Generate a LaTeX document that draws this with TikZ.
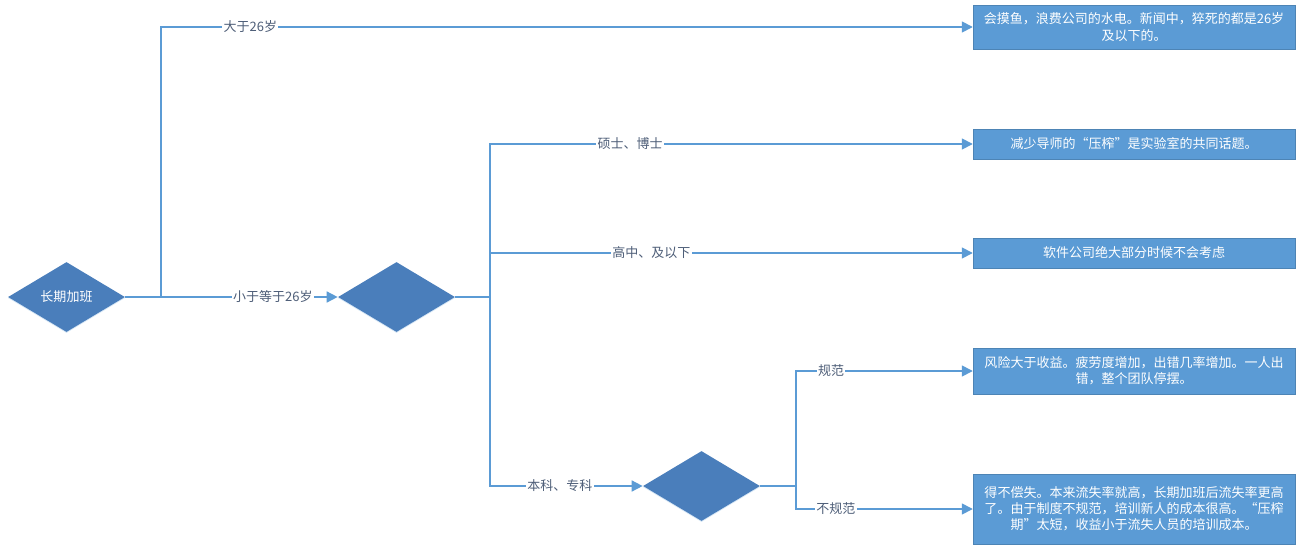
\documentclass[tikz,border=0pt]{standalone}
\usepackage{fontspec}
\newfontfamily\cjk{Noto Sans CJK SC}
\usepackage{tikz}
\usetikzlibrary{arrows.meta,shapes.geometric,shadows}
\definecolor{fdark}{HTML}{4A7EBB}
\definecolor{flight}{HTML}{5B9BD5}
\definecolor{ftext}{HTML}{4E5E78}
\tikzset{
  >={Triangle[length=2.2mm,width=2.2mm]},
  fdec/.style={diamond, aspect=1.67, fill=fdark, draw=none, text=white,
               minimum width=2.34cm, minimum height=1.4cm, inner sep=0pt,
               font=\cjk\fontsize{7.4}{9}\selectfont,
               drop shadow={shadow xshift=0pt, shadow yshift=-0.6pt,
                            opacity=0.25, fill=flight}},
  fres/.style={rectangle, fill=flight, draw=flight!85!black, line width=0.3pt,
               minimum width=6.44cm, inner sep=2pt, text=white, align=center,
               font=\cjk\fontsize{7.4}{9.2}\selectfont,
               drop shadow={shadow xshift=0.5pt, shadow yshift=-0.8pt,
                            opacity=0.3, fill=black!45}},
  flink/.style={->, flight, line width=0.9pt},
  flbl/.style={fill=white, text=ftext, inner sep=0.8pt,
               font=\cjk\fontsize{7.4}{9}\selectfont},
}
\begin{document}
\begin{tikzpicture}[x=0.02cm, y=-0.02cm]

  \useasboundingbox (0,0) rectangle (1304,554);

  % entscheidungen
  \node[fdec] (d1) at (66.5,297) {长期加班};
  \node[fdec] (d2) at (396.5,297) {};
  \node[fdec] (d3) at (701.5,486) {};

  % ergebnisse
  \node[fres, minimum height=0.88cm] (b1) at (1134,27)
    {会摸鱼，浪费公司的水电。新闻中，猝死的都是26岁\\及以下的。};
  \node[fres, minimum height=0.6cm] (b2) at (1134,144)
    {减少导师的“压榨”是实验室的共同话题。};
  \node[fres, minimum height=0.6cm] (b3) at (1134,253)
    {软件公司绝大部分时候不会考虑};
  \node[fres, minimum height=0.92cm] (b4) at (1134,371)
    {风险大于收益。疲劳度增加，出错几率增加。一人出\\错，整个团队停摆。};
  \node[fres, minimum height=1.4cm] (b5) at (1134,509)
    {得不偿失。本来流失率就高，长期加班后流失率更高\\了。由于制度不规范，培训新人的成本很高。“压榨\\期”太短，收益小于流失人员的培训成本。};

  % verzweigungen
  \coordinate (j1) at (161,297);
  \coordinate (j2) at (490,297);
  \coordinate (j3) at (796,486);

  \draw[flink] (d1.east) -- (j1) |- node[flbl, pos=0.555] {大于26岁} (b1.west);
  \draw[flink] (d1.east) -- node[flbl, pos=0.695] {小于等于26岁} (d2.west);

  \draw[flink] (d2.east) -- (j2) |- node[flbl, pos=0.645] {硕士、博士} (b2.west);
  \draw[flink] (d2.east) -- (j2) |- node[flbl, pos=0.667] {高中、及以下} (b3.west);
  \draw[flink] (d2.east) -- (j2) |- node[flbl, pos=0.729] {本科、专科} (d3.west);

  \draw[flink] (d3.east) -- (j3) |- node[flbl, pos=0.599] {规范} (b4.west);
  \draw[flink] (d3.east) -- (j3) |- node[flbl, pos=0.613] {不规范} (b5.west);

\end{tikzpicture}
\end{document}
